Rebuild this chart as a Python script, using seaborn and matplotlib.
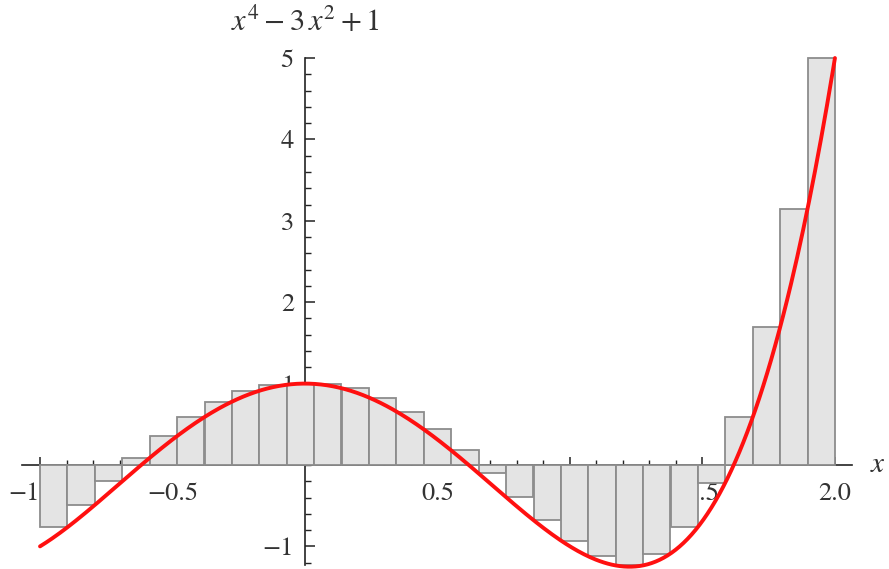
import numpy as np
import pandas as pd
import matplotlib
matplotlib.use("Agg")
import matplotlib.pyplot as plt
import seaborn as sns
from matplotlib.ticker import FixedLocator

# Upper sum of f(x) = x^4 - 3x^2 + 1 over 29 equal subintervals of [-1, 2]
bar_edges = [-1.0, -0.897, -0.793, -0.690, -0.586, -0.483, -0.379, -0.276,
             -0.172, -0.069, 0.034, 0.138, 0.241, 0.345, 0.448, 0.552,
             0.655, 0.759, 0.862, 0.966, 1.069, 1.172, 1.276, 1.379,
             1.483, 1.586, 1.690, 1.793, 1.897, 2.0]
bar_heights = [-0.765, -0.491, -0.201, 0.087, 0.355, 0.589, 0.777, 0.912,
               0.986, 1.000, 0.996, 0.943, 0.829, 0.657, 0.438, 0.179,
               -0.103, -0.395, -0.677, -0.928, -1.122, -1.234, -1.088,
               -0.762, -0.218, 0.586, 1.692, 3.147, 5.000]

# Polynomial coefficients (highest power first) of the plotted function
poly_coeffs = [1, 0, -3, 0, 1]
x_range = [-1.0, 2.0]

x_tick_values = [-1.0, -0.5, 0.5, 1.0, 1.5, 2.0]
x_tick_labels = ["\u22121", "\u22120.5", "0.5", "1.0", "1.5", "2.0"]
y_tick_values = [-1, 1, 2, 3, 4, 5]
y_tick_labels = ["\u22121", "1", "2", "3", "4", "5"]

sns.set_style("white")
plt.rcParams["font.family"] = ["STIXGeneral", "DejaVu Serif"]
plt.rcParams["mathtext.fontset"] = "stix"

fig = plt.figure(figsize=(8.89, 5.69), dpi=100)
ax = fig.add_axes([0, 0, 1, 1])

edges = np.array(bar_edges)
bars = pd.DataFrame({"x": np.round((edges[:-1] + edges[1:]) / 2, 4),
                     "y": bar_heights})
sns.barplot(data=bars, x="x", y="y", native_scale=True, orient="x",
            width=1.0, color="#e4e4e4", saturation=1, edgecolor="#8c8c8c",
            linewidth=1.3, errorbar=None, ax=ax, zorder=1)

xs = np.linspace(x_range[0], x_range[1], 400)
curve = pd.DataFrame({"x": xs, "y": np.polyval(poly_coeffs, xs)})
sns.lineplot(data=curve, x="x", y="y", color="#ff1010", linewidth=2.8,
             ax=ax, zorder=3)

ax.set_xlim(-1.151, 2.204)
ax.set_ylim(-1.278, 5.713)

# Axes through the origin, drawn underneath the bars
ax.set_axisbelow(True)
for side in ["top", "right"]:
    ax.spines[side].set_visible(False)
ax.spines["left"].set_position(("data", 0))
ax.spines["bottom"].set_position(("data", 0))
ax.spines["left"].set_bounds(-1.23, 5.0)
ax.spines["bottom"].set_bounds(-1.068, 2.064)
for side in ["left", "bottom"]:
    ax.spines[side].set_color("#222222")
    ax.spines[side].set_linewidth(1.2)
    ax.spines[side].set_zorder(0.5)

# Minor ticks only within the drawn extent of each axis line
x_minor = np.round(np.arange(-1.0, 2.001, 0.1), 2)
y_minor = np.round(np.arange(-1.2, 5.001, 0.2), 2)

ax.xaxis.set_major_locator(FixedLocator(x_tick_values))
ax.set_xticklabels(x_tick_labels)
ax.xaxis.set_minor_locator(FixedLocator(x_minor))
ax.yaxis.set_major_locator(FixedLocator(y_tick_values))
ax.set_yticklabels(y_tick_labels)
ax.yaxis.set_minor_locator(FixedLocator(y_minor))

ax.tick_params(axis="x", which="major", direction="in", length=6, width=1.1,
               color="#222222", labelsize=19, labelcolor="#333333", pad=12,
               bottom=True)
ax.tick_params(axis="x", which="minor", direction="in", length=3.5, width=1.0,
               color="#222222", bottom=True)
ax.tick_params(axis="y", which="major", direction="in", length=7, width=1.1,
               color="#222222", labelsize=19, labelcolor="#333333", pad=8,
               left=True)
ax.tick_params(axis="y", which="minor", direction="in", length=4.5, width=1.0,
               color="#222222", left=True)

# The leftmost label sits just left of its tick so the first bar leaves it visible
first_label = ax.get_xticklabels()[0]
first_label.set_horizontalalignment("right")

ax.set_xlabel("")
ax.set_ylabel("")
ax.text(0, 5.44, r"$x^4 - 3\,x^2 + 1$", ha="center", va="center",
        fontsize=22, color="#333333")
ax.text(2.162, 0, r"$x$", ha="center", va="center", fontsize=21,
        color="#333333")

fig.savefig("out.png", dpi=100)
